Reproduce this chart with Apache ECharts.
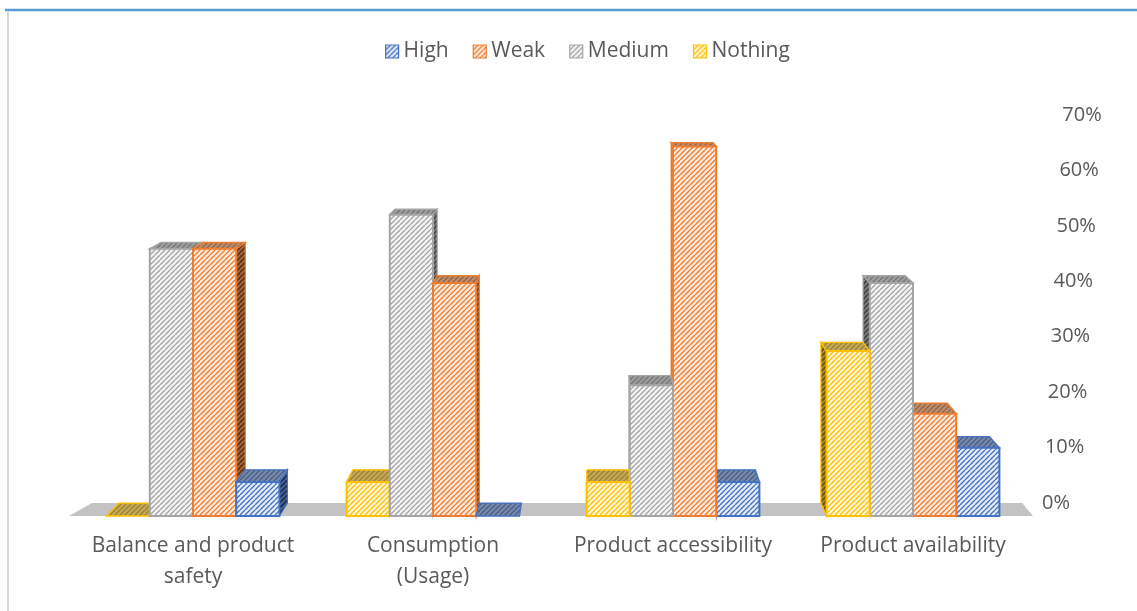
<!DOCTYPE html>
<html>
<head>
<meta charset="utf-8">
<script src="https://cdn.jsdelivr.net/npm/echarts@6/dist/echarts.min.js"></script>
<style>
html, body { margin: 0; padding: 0; background: #fff; }
#chart { width: 1137px; height: 611px; }
</style>
</head>
<body>
<div id="chart"></div>
<script>
// Categories (axis labels, wrapped as they appear under the floor)
const categories = ['Balance and product\nsafety', 'Consumption\n(Usage)', 'Product accessibility', 'Product availability'];

// Share of answers per level, in percent
const high    = [6, 0, 6, 12];
const weak    = [47, 41, 65, 18];
const medium  = [47, 53, 23, 41];
const nothing = [0, 6, 6, 29];

// Value axis
const yMin = 0;
const yMax = 70;
const yStep = 10;

// Legend order
const legendOrder = ['High', 'Weak', 'Medium', 'Nothing'];

const TEXT = '#595959';
const FONT = '"Open Sans", "Noto Sans", sans-serif';

// Simple one-point perspective: back plane = front plane scaled toward (VX, VY)
const VX = 600, VY = 0, K = 0.975;
const proj = (x, y) => [VX + (x - VX) * K, VY + (y - VY) * K];

function mix(a, b, t) {
  const pa = parseInt(a.slice(1), 16), pb = parseInt(b.slice(1), 16);
  const ch = (p, s) => (p >> s) & 255;
  const m = s => Math.round(ch(pa, s) * (1 - t) + ch(pb, s) * t);
  return 'rgb(' + m(16) + ',' + m(8) + ',' + m(0) + ')';
}

// Diagonal "/" hatch fill
function hatch(bg, fg, lw) {
  const s = 5;
  const c = document.createElement('canvas');
  c.width = c.height = s;
  const g = c.getContext('2d');
  g.fillStyle = bg;
  g.fillRect(0, 0, s, s);
  g.strokeStyle = fg;
  g.lineWidth = lw;
  g.beginPath();
  for (let o = -s; o <= s; o += s) { g.moveTo(o, s); g.lineTo(o + s, 0); }
  g.stroke();
  return { image: c, repeat: 'repeat' };
}

function palette(color, tint) {
  return {
    color: color,
    front: hatch(tint, color, 1.4),
    top: hatch(mix(color, '#9a9a9a', 0.6), mix(color, '#4a4a4a', 0.55), 1.3),
    side: hatch(mix(color, '#000000', 0.55), mix(color, '#6f6f6f', 0.5), 1.3)
  };
}

const levels = [
  { name: 'Nothing', data: nothing, slot: 0, pal: palette('#FFC000', '#fff6d9') },
  { name: 'Medium',  data: medium,  slot: 1, pal: palette('#A5A5A5', '#f4f4f4') },
  { name: 'Weak',    data: weak,    slot: 2, pal: palette('#ED7D31', '#fdeadd') },
  { name: 'High',    data: high,    slot: 3, pal: palette('#4472C4', '#e6ecf7') }
];

function barRenderer(slot, pal) {
  return function (params, api) {
    const ci = api.value(0);
    const v = api.value(1);
    const base = api.coord([ci, 0]);
    const band = api.size([1, 0])[0];
    const w = band * 0.18;
    const x0 = base[0] - 2 * w + slot * w;
    const x1 = x0 + w;
    const yb = base[1];
    const yt = api.coord([ci, v])[1];
    const dist = Math.abs((x0 + x1) / 2 - VX);
    const z = Math.round(1500 - dist) * 4 + 10;
    const children = [];
    let edge = null;
    if (x1 <= VX) edge = x1; else if (x0 >= VX) edge = x0;
    if (edge !== null && v > 0) {
      children.push({
        type: 'polygon', z2: z,
        shape: { points: [[edge, yt], proj(edge, yt), proj(edge, yb), [edge, yb]] },
        style: { fill: pal.side, stroke: pal.color, lineWidth: 1.2 }
      });
    }
    children.push({
      type: 'polygon', z2: z + 1,
      shape: { points: [[x0, yt], [x1, yt], proj(x1, yt), proj(x0, yt)] },
      style: { fill: pal.top, stroke: pal.color, lineWidth: 1.4 }
    });
    if (v > 0) {
      children.push({
        type: 'rect', z2: z + 2,
        shape: { x: x0, y: yt, width: w, height: yb - yt },
        style: { fill: pal.front, stroke: pal.color, lineWidth: 2 }
      });
    }
    return { type: 'group', children: children };
  };
}

function floorRenderer(params, api) {
  const cs = params.coordSys;
  const yb = cs.y + cs.height;
  const xl = cs.x, xr = cs.x + cs.width;
  return {
    type: 'polygon', z2: 0,
    shape: { points: [[xl - 4, yb], [xr, yb], proj(xr, yb), proj(xl + 6, yb)] },
    style: { fill: '#c3c3c3' }
  };
}

const labelRich = {};
for (let i = 0; i <= (yMax - yMin) / yStep; i++) {
  labelRich['s' + i] = { padding: [0, 0, 0, i * 2.9], fontSize: 20, color: TEXT, fontFamily: FONT };
}

const series = levels.map(l => ({
  name: l.name,
  type: 'custom',
  xAxisIndex: 1,
  yAxisIndex: 1,
  itemStyle: { color: l.pal.color },
  renderItem: barRenderer(l.slot, l.pal),
  encode: { x: 0, y: 1 },
  data: l.data.map((v, i) => [i, v])
}));
series.unshift({
  name: 'floor',
  type: 'custom',
  xAxisIndex: 1,
  yAxisIndex: 1,
  silent: true,
  renderItem: floorRenderer,
  data: [[0, 0]]
});

const chart = echarts.init(document.getElementById('chart'), null, { renderer: 'canvas' });
chart.setOption({
  animation: false,
  backgroundColor: '#ffffff',
  textStyle: { fontFamily: FONT },
  legend: {
    top: 36,
    left: 380,
    itemWidth: 13,
    itemHeight: 13,
    itemGap: 24,
    textStyle: { fontSize: 21, color: TEXT, fontFamily: FONT },
    data: legendOrder.map(n => {
      const l = levels.find(x => x.name === n);
      return { name: n, icon: 'rect', itemStyle: { color: l.pal.front, borderColor: l.pal.color, borderWidth: 1.2 } };
    })
  },
  grid: [
    // back plane (value labels)
    { left: 86, right: 115, top: 115, bottom: 108 },
    // front plane (bars and category labels)
    { left: 73, right: 104, top: 118, bottom: 95 }
  ],
  xAxis: [
    { type: 'category', gridIndex: 0, data: categories, show: false },
    {
      type: 'category', gridIndex: 1, data: categories,
      axisLine: { show: false }, axisTick: { show: false },
      axisLabel: { margin: 15, fontSize: 21, lineHeight: 31, color: TEXT, fontFamily: FONT, interval: 0 }
    }
  ],
  yAxis: [
    {
      type: 'value', gridIndex: 0, position: 'right', min: yMin, max: yMax, interval: yStep,
      axisLine: { show: false }, axisTick: { show: false }, splitLine: { show: false },
      axisLabel: {
        margin: 20,
        formatter: v => '{s' + Math.round((v - yMin) / yStep) + '|' + v + '%}',
        rich: labelRich
      }
    },
    { type: 'value', gridIndex: 1, min: yMin, max: yMax, interval: yStep, show: false }
  ],
  graphic: [
    { type: 'line', shape: { x1: 5, y1: 10, x2: 1137, y2: 10 }, style: { stroke: '#5b9bd5', lineWidth: 2.5 } },
    { type: 'line', shape: { x1: 8, y1: 11, x2: 8, y2: 611 }, style: { stroke: '#d9d9d9', lineWidth: 2 } }
  ],
  series: series
});
</script>
</body>
</html>
